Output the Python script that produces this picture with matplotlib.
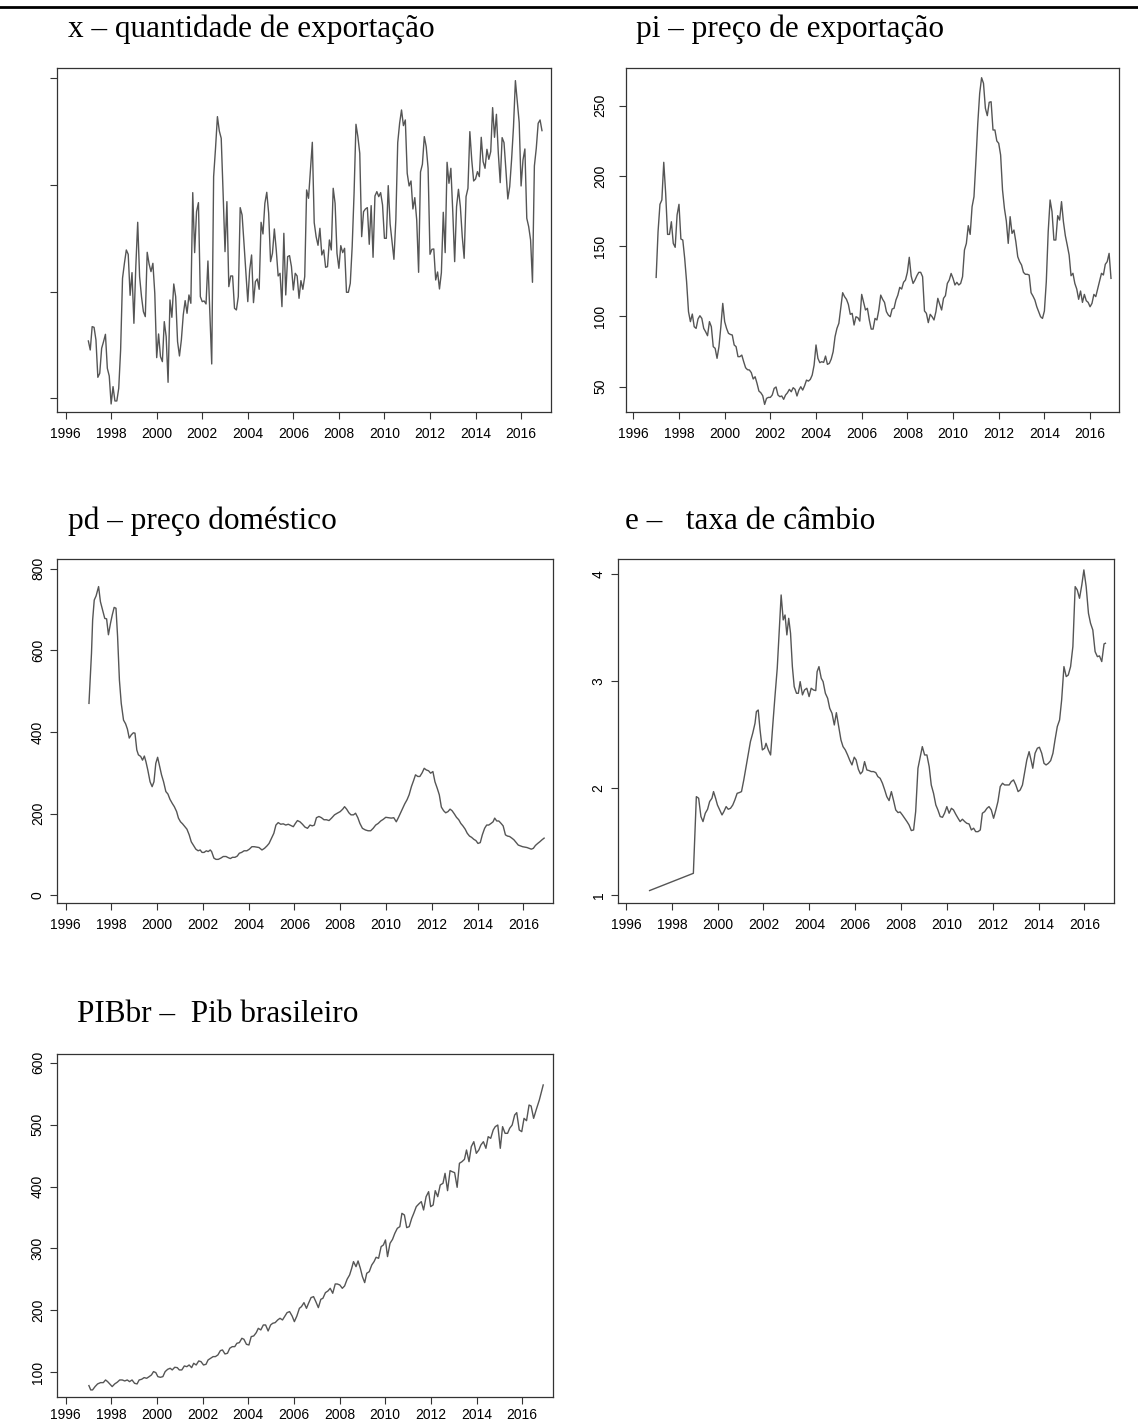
import matplotlib
matplotlib.use("Agg")
import matplotlib.pyplot as plt
import numpy as np
import pandas as pd

plt.rcParams["font.family"] = ["Liberation Sans", "DejaVu Sans"]

# monthly series, Jan 1997 - Dec 2016
months = pd.date_range("1997-01-01", periods=240, freq="MS")
t_month = months.year + (months.month - 1) / 12

# x - export quantity (axis without labels, arbitrary units)
x_vals = [
    27.2, 24.5, 31.5, 31.3, 27.5, 16.3, 17.5, 25.0, 27.0, 29.2, 19.0, 16.7, 8.3, 13.5, 9.2, 9.2,
    13.0, 24.5, 46.0, 50.5, 54.5, 53.2, 40.9, 47.7, 32.5, 49.5, 62.8, 46.5, 40.5, 36.0, 34.5, 53.8,
    50.3, 48.0, 50.5, 41.5, 22.2, 29.3, 22.5, 21.0, 33.0, 28.5, 14.8, 39.5, 34.3, 44.3, 40.5, 27.0,
    22.7, 27.5, 35.0, 39.3, 35.5, 41.0, 38.5,
    71.7, 53.7, 66.0, 68.7, 40.5, 39.0, 39.2, 38.3, 51.2, 35.5, 20.3, 76.5, 85.0, 94.5, 90.2, 88.0,
    71.5, 54.0, 69.0, 43.5, 46.7, 46.7, 37.0, 36.5, 40.5,
    67.2, 65.0, 56.5, 47.5, 39.0, 48.5, 53.0, 38.7, 45.0, 45.8, 42.7, 62.8, 59.3, 68.5, 71.8, 65.5,
    51.0, 53.5, 60.8, 54.5, 46.7, 47.5, 37.5, 59.5, 41.0, 52.5, 52.8, 49.5, 42.5, 47.5, 46.7, 40.0,
    45.3, 42.7, 46.5,
    72.5, 70.0, 78.5, 86.8, 62.7, 58.5, 55.9, 61.0, 53.0, 54.5, 49.3, 49.5, 57.5, 54.5, 73.0, 68.5,
    53.5, 49.0, 55.8, 53.7, 55.0, 41.8, 41.8, 44.5, 55.5, 71.5, 92.2, 88.5, 83.5, 58.5,
    66.0, 66.8, 67.2, 56.2, 67.8, 52.3, 70.7, 72.0, 70.5, 71.7, 68.0, 58.0, 58.0, 73.8, 62.3, 57.0,
    51.7, 63.5, 86.7, 92.5, 96.5, 91.8, 93.5, 77.5, 73.7, 75.2, 66.8, 70.2, 63.5, 47.8,
    77.9, 80.2, 88.5, 85.5, 79.0, 53.2, 54.7, 54.8, 45.5, 47.9, 42.8, 47.7, 65.8, 53.7, 80.8, 74.5,
    79.0, 66.0, 51.0, 67.5, 72.7, 67.5, 58.5, 52.0, 70.5,
    73.0, 90.0, 81.5, 75.2, 75.8, 78.0, 76.5, 88.3, 81.0, 79.0, 84.7, 81.7, 84.0, 97.2, 88.3, 95.2,
    83.5, 74.7, 88.2, 86.7, 78.5, 69.8, 73.5, 81.7, 91.5, 105.3, 99.0, 92.7, 73.7, 81.5, 84.8, 64.0,
    61.5, 57.5, 44.8, 79.7, 85.0, 92.5, 93.5, 90.3,
]

# pi - export price
pi_vals = [
    127.8, 160.3, 179.8, 182.9, 209.7, 187.6, 158.4, 158.4, 167.4, 152.0, 149.2, 172.2, 179.8, 155.1,
    154.4, 141.3, 124.7, 103.4, 96.3, 101.7, 92.7, 91.5, 98.2, 100.5, 98.6, 91.5, 89.1, 86.3, 96.3,
    92.7, 78.5, 77.3, 70.2, 78.5, 92.7, 109.3, 96.3, 91.5, 88.0, 87.2, 86.8, 79.7, 78.5, 71.4, 71.4,
    72.5, 67.8, 63.5, 62.1, 61.9, 60.0, 55.5, 57.1, 52.4, 46.9, 45.7, 43.6, 37.4, 41.7, 42.4, 42.4,
    44.1, 48.8, 49.8, 44.1, 42.9, 43.4, 41.0, 44.1, 45.7, 48.1, 46.4, 49.3, 48.1, 43.4, 47.6, 50.0,
    47.6, 50.7, 54.7, 54.0, 55.2, 58.3, 65.4, 79.7, 70.2, 67.1, 67.8, 67.3, 71.8, 65.9, 66.6, 69.7,
    74.9, 85.6, 91.5, 95.1, 105.8, 116.9, 114.1, 112.2, 108.6, 101.5, 102.2, 93.9, 99.8,
    99.1, 96.7, 115.7, 110.0, 104.6, 105.8, 97.5, 91.0, 91.0, 98.6, 97.5, 104.6, 115.2, 112.2, 110.0,
    103.4, 101.0, 99.8, 105.3, 105.8, 111.7, 115.2, 120.7, 119.5, 124.3, 125.9, 131.4, 142.1, 128.8,
    123.5, 125.9, 129.0, 131.4, 131.4, 128.3, 103.9, 102.2, 95.6, 101.5, 99.8, 97.5, 103.4, 112.9,
    108.6, 104.6, 112.9, 114.8, 123.5, 125.9, 130.6, 127.1, 122.4, 124.3, 122.4, 123.5, 128.3, 147.3,
    152.0, 164.6, 158.4, 178.1, 185.2, 210.1, 237.4, 258.8, 269.9, 265.9, 248.1, 242.9, 252.4, 252.8,
    232.7, 232.7, 224.9, 223.2, 214.9, 190.0, 176.9, 167.9, 152.0, 171.0, 159.1, 161.5, 153.2, 142.5,
    139.0, 136.6, 131.4, 130.0, 130.0, 129.5, 116.9, 114.5, 111.7, 106.9, 103.4, 99.8, 98.6, 103.9,
    124.7, 160.3, 182.9, 174.6, 154.4, 154.4, 171.7, 168.6, 181.7, 167.4, 157.5, 150.8, 143.7, 129.0,
    130.7, 123.5, 119.5, 112.2, 118.1, 110.0, 115.7, 111.2, 110.0, 106.9, 109.3, 115.7, 114.1, 119.5,
    125.2, 130.7, 129.5, 137.1, 139.0, 144.9, 127.1,
]

# pd - domestic price (dates in decimal years)
pd_t = [
    1997.02, 1997.13, 1997.18, 1997.25, 1997.33, 1997.44, 1997.52, 1997.63, 1997.71, 1997.79,
    1997.87, 1997.96, 1998.04, 1998.12, 1998.20, 1998.27, 1998.35, 1998.43, 1998.53, 1998.62,
    1998.70, 1998.78, 1998.87, 1998.96, 1999.03, 1999.11, 1999.18, 1999.28, 1999.36, 1999.44,
    1999.51, 1999.59, 1999.69, 1999.78, 1999.86, 1999.94, 2000.02, 2000.11, 2000.19, 2000.28,
    2000.38, 2000.47, 2000.56, 2000.66, 2000.75, 2000.85, 2000.93, 2001.02, 2001.11, 2001.21,
    2001.30, 2001.40, 2001.49, 2001.60, 2001.69, 2001.79, 2001.88, 2001.96, 2002.05, 2002.15,
    2002.23, 2002.32, 2002.38, 2002.48, 2002.57, 2002.67, 2002.78, 2002.89, 2003.01, 2003.11,
    2003.20, 2003.29, 2003.40, 2003.50, 2003.59, 2003.69, 2003.80, 2003.92, 2004.03, 2004.14,
    2004.24, 2004.35, 2004.45, 2004.58, 2004.69, 2004.80, 2004.89, 2005.00, 2005.10, 2005.19,
    2005.29, 2005.40, 2005.51, 2005.62, 2005.73, 2005.84, 2005.95, 2006.04, 2006.13, 2006.24,
    2006.35, 2006.46, 2006.57, 2006.68, 2006.78, 2006.87, 2006.96, 2007.07, 2007.18, 2007.29,
    2007.40, 2007.51, 2007.62, 2007.75, 2007.87, 2008.00, 2008.11, 2008.19, 2008.28, 2008.38,
    2008.47, 2008.58, 2008.67, 2008.77, 2008.86, 2008.97, 2009.10, 2009.22, 2009.33, 2009.44,
    2009.55, 2009.66, 2009.77, 2009.88, 2009.99, 2010.12, 2010.23, 2010.34, 2010.45, 2010.54,
    2010.64, 2010.73, 2010.82, 2010.92, 2011.01, 2011.11, 2011.20, 2011.29, 2011.39, 2011.48,
    2011.58, 2011.67, 2011.76, 2011.86, 2011.95, 2012.05, 2012.14, 2012.24, 2012.33, 2012.42,
    2012.52, 2012.61, 2012.71, 2012.80, 2012.89, 2012.99, 2013.08, 2013.18, 2013.27, 2013.36,
    2013.46, 2013.55, 2013.65, 2013.74, 2013.84, 2013.93, 2014.02, 2014.12, 2014.21, 2014.31,
    2014.40, 2014.49, 2014.59, 2014.68, 2014.75, 2014.84, 2014.93, 2015.03, 2015.12, 2015.22,
    2015.31, 2015.40, 2015.50, 2015.59, 2015.69, 2015.78, 2015.87, 2015.97, 2016.06, 2016.16,
    2016.25, 2016.35, 2016.44, 2016.53, 2016.63, 2016.72, 2016.82, 2016.91,
]
pd_vals = [
    470, 593, 674, 723, 733, 756, 719, 695, 678, 677,
    638, 666, 687, 705, 703, 634, 527, 470, 429, 420,
    407, 385, 393, 398, 397, 356, 344, 340, 331, 341,
    327, 307, 278, 266, 278, 323, 338, 315, 295, 278,
    254, 248, 235, 225, 217, 205, 189, 180, 175, 168,
    162, 148, 131, 121, 113, 109, 111, 105, 105, 109,
    107, 111, 107, 91, 88, 88, 91, 95, 95, 92,
    90, 93, 93, 96, 103, 105, 109, 109, 113, 119,
    119, 118, 117, 111, 115, 121, 127, 140, 152, 172,
    178, 174, 175, 172, 174, 171, 168, 176, 183, 180,
    174, 167, 164, 172, 170, 172, 190, 193, 190, 185,
    185, 183, 189, 197, 201, 205, 211, 217, 211, 202,
    197, 197, 201, 190, 176, 164, 160, 158, 158, 164,
    172, 176, 182, 186, 191, 190, 189, 190, 180, 190,
    202, 213, 224, 234, 246, 266, 280, 295, 291, 291,
    300, 311, 307, 305, 299, 303, 278, 262, 246, 216,
    207, 202, 205, 211, 207, 199, 191, 185, 176, 170,
    162, 152, 145, 142, 137, 134, 127, 129, 148, 164,
    172, 172, 176, 180, 189, 182, 182, 176, 170, 148,
    145, 144, 140, 136, 129, 123, 121, 119, 118, 117,
    115, 113, 115, 122, 127, 131, 136, 140,
]

# e - exchange rate
e_t = [
    1997.03, 1998.94, 1999.07, 1999.17, 1999.27, 1999.36, 1999.46, 1999.56, 1999.65, 1999.75,
    1999.82, 1999.91, 1999.99, 2000.09, 2000.19, 2000.27, 2000.37, 2000.46, 2000.56, 2000.66,
    2000.75, 2000.85, 2000.95, 2001.04, 2001.14, 2001.24, 2001.34, 2001.43, 2001.53, 2001.63,
    2001.69, 2001.77, 2001.85, 2001.95, 2002.05, 2002.11, 2002.21, 2002.31, 2002.40, 2002.50,
    2002.60, 2002.69, 2002.77, 2002.86, 2002.94, 2003.02, 2003.10, 2003.18, 2003.26, 2003.34,
    2003.44, 2003.52, 2003.60, 2003.70, 2003.79, 2003.89, 2003.99, 2004.08, 2004.18, 2004.28,
    2004.34, 2004.42, 2004.52, 2004.60, 2004.70, 2004.80, 2004.89, 2004.99, 2005.09, 2005.18,
    2005.28, 2005.38, 2005.47, 2005.57, 2005.67, 2005.77, 2005.86, 2005.96, 2006.04, 2006.14,
    2006.23, 2006.32, 2006.41, 2006.51, 2006.61, 2006.70, 2006.80, 2006.90, 2006.99, 2007.09,
    2007.19, 2007.29, 2007.38, 2007.48, 2007.58, 2007.67, 2007.77, 2007.87, 2007.96, 2008.06,
    2008.16, 2008.26, 2008.35, 2008.45, 2008.55, 2008.64, 2008.74, 2008.84, 2008.93, 2009.03,
    2009.13, 2009.23, 2009.32, 2009.42, 2009.52, 2009.61, 2009.71, 2009.81, 2009.90, 2010.00,
    2010.10, 2010.20, 2010.29, 2010.39, 2010.49, 2010.58, 2010.68, 2010.78, 2010.87, 2010.97,
    2011.07, 2011.17, 2011.26, 2011.36, 2011.46, 2011.55, 2011.65, 2011.75, 2011.84, 2011.94,
    2012.04, 2012.14, 2012.23, 2012.33, 2012.43, 2012.52, 2012.62, 2012.72, 2012.81, 2012.91,
    2013.01, 2013.11, 2013.20, 2013.30, 2013.40, 2013.49, 2013.59, 2013.69, 2013.75, 2013.85,
    2013.95, 2014.04, 2014.14, 2014.24, 2014.33, 2014.43, 2014.53, 2014.63, 2014.72, 2014.82,
    2014.92, 2015.01, 2015.11, 2015.21, 2015.30, 2015.40, 2015.50, 2015.60, 2015.69, 2015.79,
    2015.89, 2015.98, 2016.08, 2016.18, 2016.27, 2016.37, 2016.47, 2016.57, 2016.66, 2016.76,
    2016.86, 2016.92,
]
e_vals = [
    1.044, 1.205, 1.921, 1.906, 1.735, 1.688, 1.766, 1.803, 1.875, 1.906,
    1.968, 1.906, 1.843, 1.797, 1.750, 1.781, 1.828, 1.803, 1.812, 1.843,
    1.890, 1.952, 1.959, 1.968, 2.077, 2.201, 2.326, 2.435, 2.513, 2.606,
    2.715, 2.730, 2.544, 2.357, 2.373, 2.419, 2.357, 2.310, 2.575, 2.855,
    3.120, 3.477, 3.804, 3.571, 3.617, 3.431, 3.586, 3.446, 3.135, 2.948,
    2.886, 2.886, 2.995, 2.871, 2.917, 2.933, 2.855, 2.933, 2.917, 2.911,
    3.088, 3.135, 3.026, 2.995, 2.886, 2.839, 2.746, 2.699, 2.590, 2.705,
    2.575, 2.450, 2.388, 2.357, 2.310, 2.257, 2.217, 2.289, 2.264, 2.176,
    2.133, 2.155, 2.248, 2.170, 2.164, 2.155, 2.155, 2.145, 2.108, 2.092,
    2.046, 1.983, 1.921, 1.884, 1.968, 1.890, 1.797, 1.772, 1.778, 1.750,
    1.719, 1.688, 1.657, 1.604, 1.610, 1.781, 2.186, 2.295, 2.388, 2.310,
    2.310, 2.201, 2.030, 1.952, 1.843, 1.797, 1.735, 1.728, 1.766, 1.828,
    1.766, 1.812, 1.797, 1.756, 1.719, 1.688, 1.710, 1.688, 1.672, 1.666,
    1.610, 1.626, 1.594, 1.594, 1.610, 1.766, 1.781, 1.812, 1.828, 1.797,
    1.719, 1.797, 1.875, 2.015, 2.046, 2.030, 2.030, 2.030, 2.061, 2.077,
    2.030, 1.968, 1.983, 2.030, 2.155, 2.264, 2.341, 2.248, 2.186, 2.326,
    2.373, 2.382, 2.326, 2.232, 2.217, 2.232, 2.257, 2.326, 2.450, 2.575,
    2.637, 2.824, 3.135, 3.042, 3.057, 3.135, 3.322, 3.882, 3.851, 3.773,
    3.898, 4.038, 3.882, 3.633, 3.540, 3.477, 3.275, 3.228, 3.235, 3.182,
    3.347, 3.353,
]

# PIBbr - Brazilian GDP
pib_t = [
    1997.02, 1997.10, 1997.18, 1997.29, 1997.40, 1997.53, 1997.65, 1997.75, 1997.84, 1997.93,
    1998.04, 1998.15, 1998.26, 1998.37, 1998.48, 1998.59, 1998.70, 1998.80, 1998.91, 1999.02,
    1999.13, 1999.22, 1999.33, 1999.44, 1999.55, 1999.66, 1999.76, 1999.85, 1999.95, 2000.04,
    2000.15, 2000.26, 2000.36, 2000.47, 2000.58, 2000.67, 2000.78, 2000.89, 2000.98, 2001.09,
    2001.20, 2001.31, 2001.41, 2001.52, 2001.61, 2001.72, 2001.83, 2001.93, 2002.04, 2002.15,
    2002.24, 2002.35, 2002.46, 2002.56, 2002.67, 2002.78, 2002.87, 2002.98, 2003.09, 2003.19,
    2003.30, 2003.41, 2003.50, 2003.61, 2003.72, 2003.81, 2003.92, 2004.03, 2004.13, 2004.24,
    2004.35, 2004.44, 2004.55, 2004.66, 2004.76, 2004.87, 2004.98, 2005.07, 2005.18, 2005.29,
    2005.39, 2005.50, 2005.61, 2005.70, 2005.81, 2005.92, 2006.02, 2006.13, 2006.24, 2006.33,
    2006.44, 2006.55, 2006.64, 2006.75, 2006.86, 2006.96, 2007.07, 2007.18, 2007.27, 2007.38,
    2007.49, 2007.59, 2007.70, 2007.81, 2007.90, 2008.01, 2008.12, 2008.22, 2008.33, 2008.44,
    2008.53, 2008.61, 2008.72, 2008.81, 2008.91, 2009.00, 2009.10, 2009.19, 2009.30, 2009.41,
    2009.51, 2009.60, 2009.71, 2009.82, 2009.92, 2010.01, 2010.10, 2010.21, 2010.32, 2010.42,
    2010.53, 2010.64, 2010.73, 2010.84, 2010.94, 2011.05, 2011.16, 2011.25, 2011.36, 2011.47,
    2011.58, 2011.68, 2011.79, 2011.90, 2011.99, 2012.10, 2012.19, 2012.30, 2012.41, 2012.53,
    2012.62, 2012.73, 2012.84, 2012.93, 2013.04, 2013.15, 2013.25, 2013.36, 2013.47, 2013.56,
    2013.67, 2013.77, 2013.88, 2013.99, 2014.10, 2014.19, 2014.30, 2014.41, 2014.51, 2014.62,
    2014.73, 2014.82, 2014.93, 2015.04, 2015.14, 2015.25, 2015.36, 2015.45, 2015.56, 2015.67,
    2015.76, 2015.87, 2015.98, 2016.08, 2016.19, 2016.30, 2016.39, 2016.50, 2016.61, 2016.75,
    2016.92,
]
pib_vals = [
    78.5, 71.5, 71.5, 76.9, 81.2, 83.3, 83.3, 87.6, 84.9, 81.2,
    76.9, 81.2, 83.9, 87.6, 87.6, 86.0, 87.6, 84.9, 87.6, 82.2,
    81.2, 87.6, 88.7, 91.4, 90.3, 93.0, 95.7, 101.1, 99.5, 93.0,
    91.9, 93.0, 101.1, 104.8, 106.5, 103.8, 108.1, 107.5, 103.8, 103.8,
    110.2, 109.1, 111.8, 107.5, 114.5, 111.8, 118.3, 117.2, 111.8, 112.9,
    119.9, 122.6, 125.3, 125.3, 128.0, 135.0, 136.1, 129.6, 130.7, 138.8,
    141.4, 141.4, 146.8, 147.9, 154.9, 153.3, 145.2, 144.1, 157.6, 158.7,
    164.0, 171.0, 168.4, 176.4, 176.4, 166.7, 176.4, 179.1, 180.2, 184.5,
    187.2, 184.5, 191.0, 196.3, 198.0, 191.0, 181.8, 191.0, 203.3, 206.0,
    212.5, 203.3, 211.4, 220.6, 222.2, 214.1, 204.4, 217.9, 219.5, 228.6,
    231.3, 235.6, 227.6, 242.6, 242.6, 241.0, 235.6, 239.4, 250.2, 257.2,
    267.9, 278.7, 270.6, 279.8, 267.9, 254.5, 244.8, 259.9, 262.5, 273.3,
    278.7, 285.7, 284.1, 302.9, 305.6, 313.7, 286.8, 308.3, 314.7, 324.4,
    332.5, 335.2, 356.7, 354.0, 333.6, 335.2, 348.6, 356.7, 367.5, 371.8,
    375.6, 362.1, 383.6, 391.7, 367.5, 370.2, 393.3, 383.6, 402.5, 405.2,
    421.3, 393.3, 425.6, 424.0, 422.4, 398.7, 437.5, 440.1, 443.9, 459.0,
    440.1, 464.4, 472.4, 453.6, 459.0, 467.1, 472.4, 461.7, 480.5, 477.8,
    491.3, 496.7, 499.3, 461.7, 496.7, 485.9, 485.9, 494.0, 499.3, 515.5,
    519.3, 491.3, 488.6, 510.1, 506.3, 531.6, 530.0, 510.1, 523.6, 539.7,
    564.0,
]

year_ticks = list(range(1996, 2017, 2))
titles = [
    "x \u2013 quantidade de exporta\u00e7\u00e3o",
    "pi \u2013 pre\u00e7o de exporta\u00e7\u00e3o",
    "pd \u2013 pre\u00e7o dom\u00e9stico",
    "e \u2013   taxa de c\u00e2mbio",
    "PIBbr \u2013  Pib brasileiro",
]

W, H = 1138, 1422
fig = plt.figure(figsize=(W / 100, H / 100), dpi=100)

LINE = "#555555"


def panel(box, xlim, ylim, yticks, ylabels=True, ypad=4, xpad=5.5):
    left, right, top, bottom = box
    ax = fig.add_axes([left / W, 1 - bottom / H, (right - left) / W, (bottom - top) / H])
    ax.set_xlim(*xlim)
    ax.set_ylim(*ylim)
    ax.set_xticks(year_ticks)
    ax.set_xticklabels([str(y) for y in year_ticks], fontsize=10)
    ax.set_yticks(yticks)
    if ylabels:
        ax.set_yticklabels([f"{v:g}" for v in yticks], rotation=90, va="center", fontsize=10)
    else:
        ax.set_yticklabels([])
    ax.tick_params(direction="out", length=5, width=0.8, color="#333333")
    ax.tick_params(axis="x", pad=xpad)
    ax.tick_params(axis="y", pad=ypad)
    for s in ax.spines.values():
        s.set_linewidth(0.9)
        s.set_color("#333333")
    return ax


ax1 = panel((56.7, 550.7, 68.3, 412.3), (1995.61, 2017.30), (5.8, 109.0), [10, 42, 74, 106], ylabels=False)
ax1.plot(t_month, x_vals, color=LINE, lw=1.0)

ax2 = panel((626, 1119.3, 68.3, 412), (1995.68, 2017.28), (32.0, 276.6), [50, 100, 150, 200, 250], ypad=8.5)
ax2.plot(t_month, pi_vals, color=LINE, lw=1.0)

ax3 = panel((57.4, 552.8, 559.3, 903.3), (1995.64, 2017.29), (-19.6, 822.8), [0, 200, 400, 600, 800])
ax3.plot(pd_t, pd_vals, color=LINE, lw=1.0)

ax4 = panel((618.2, 1113.9, 559.3, 903.3), (1995.66, 2017.29), (0.925, 4.137), [1, 2, 3, 4])
ax4.plot(e_t, e_vals, color=LINE, lw=1.0)

ax5 = panel((57.4, 552.8, 1054, 1397.3), (1995.64, 2017.34), (59.6, 614.0),
            [100, 200, 300, 400, 500, 600], xpad=2.5)
ax5.plot(pib_t, pib_vals, color=LINE, lw=1.0)

# titles (serif, as in the source document)
title_pos = [(67.6, 37.5), (636, 37.5), (68, 529), (625, 529), (77, 1021.7)]
for (tx, ty), txt in zip(title_pos, titles):
    fig.text(tx / W, 1 - ty / H, txt, fontfamily="Liberation Serif", fontsize=22.5,
             va="baseline", ha="left")

# rule across the top of the page
fig.add_artist(plt.Line2D([0, 1], [1 - 6.5 / H, 1 - 6.5 / H], color="black", lw=2.0))

fig.savefig("out.png", dpi=100)
